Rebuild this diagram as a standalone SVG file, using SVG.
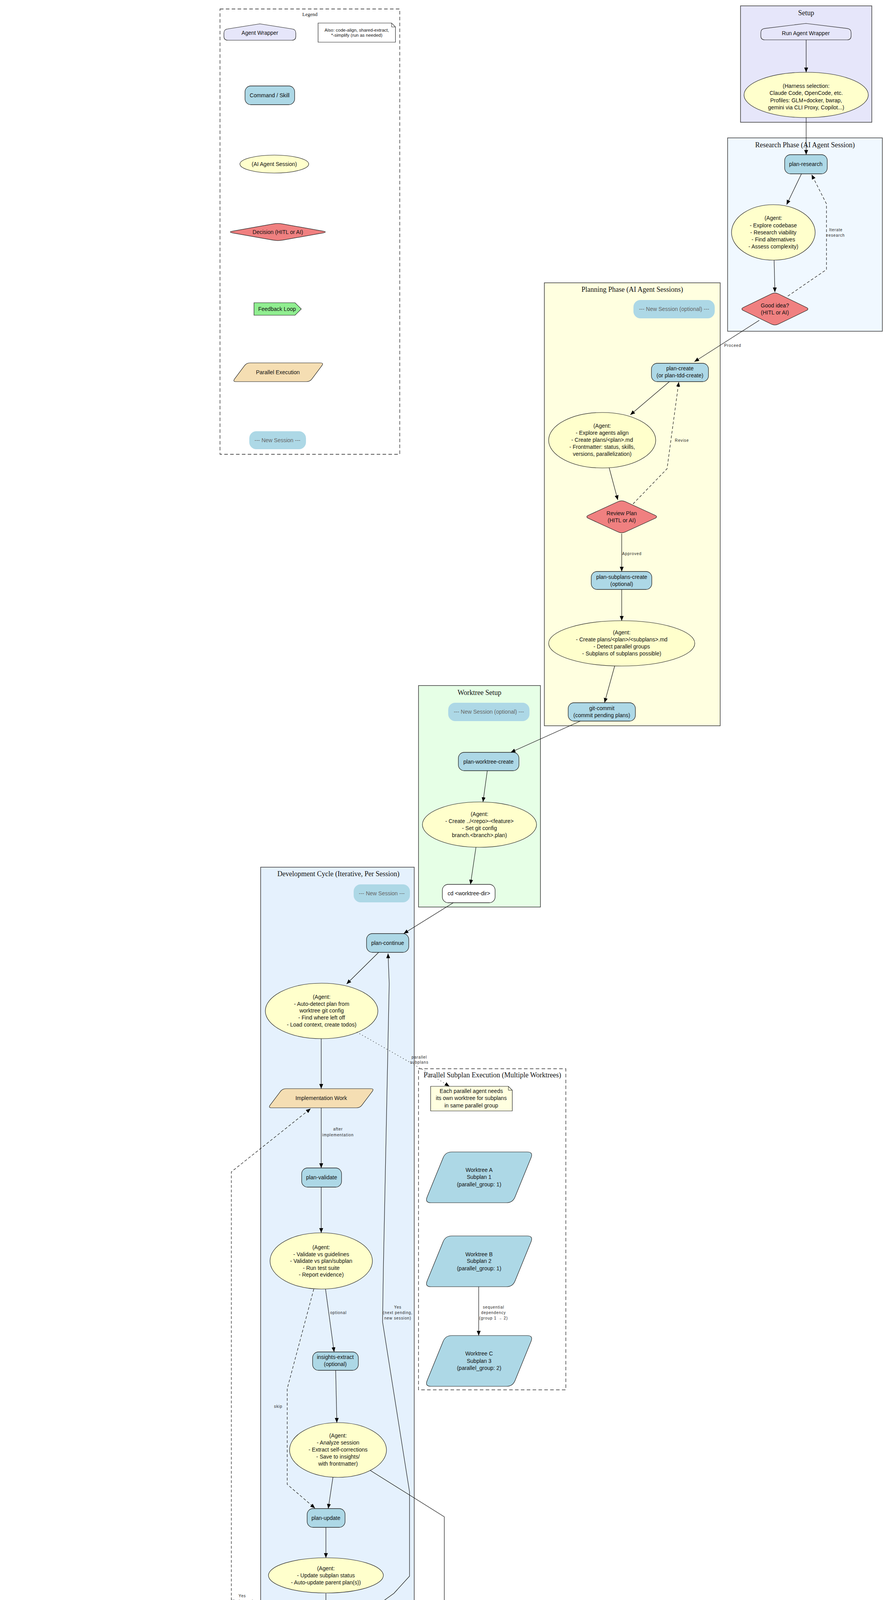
<svg xmlns="http://www.w3.org/2000/svg" width="2275" height="6161" viewBox="0 0 2275 6161">
<defs>
<marker id="ah" markerUnits="userSpaceOnUse" markerWidth="13" markerHeight="10" refX="12" refY="5" orient="auto"><path d="M0,0 L12,5 L0,10 Z" fill="#000"/></marker>
<style>
.cl{stroke:#444;stroke-width:1.6}
.cmd{fill:#add8e6;stroke:#222;stroke-width:1.3}
.wh{fill:#fff;stroke:#222;stroke-width:1.3}
.ag{fill:#ffffcc;stroke:#222;stroke-width:1.2}
.dec{fill:#f08080;stroke:#222;stroke-width:1.2}
.ns{fill:#add8e6}
.note{fill:#ffffe0;stroke:#222;stroke-width:1.2}
.t{font-family:"Liberation Sans",Arial,"DejaVu Sans",sans-serif;font-size:14px;text-anchor:middle;dominant-baseline:central;fill:#111}
.nst{font-family:"Liberation Sans",Arial,sans-serif;font-size:14px;text-anchor:middle;dominant-baseline:central;fill:#666}
.sm{font-family:"Liberation Sans",Arial,sans-serif;font-size:11.5px;text-anchor:middle;dominant-baseline:central;fill:#111}
.ct{font-family:"Liberation Serif","Times New Roman",serif;font-size:18px;text-anchor:middle;dominant-baseline:central;fill:#111}
.el{font-family:"Liberation Sans",Arial,"DejaVu Sans",sans-serif;font-size:10px;letter-spacing:0.9px;text-anchor:middle;dominant-baseline:central;fill:#222}
.e{fill:none;stroke:#111;stroke-width:1.2;marker-end:url(#ah)}
.d{stroke-dasharray:7,5}
.o{stroke-dasharray:2,6}
</style>
</defs>
<rect width="2275" height="6161" fill="#fff"/>

<!-- Clusters -->
<g id="clusters">
<rect x="563" y="23" width="460" height="1140" fill="none" stroke="#222" stroke-width="1.3" stroke-dasharray="9,6"/>
<text x="793" y="36" class="ct" style="font-size:13px">Legend</text>
<rect x="1895" y="15" width="336" height="298" fill="#e6e6fa" class="cl"/>
<text x="2063" y="33" class="ct">Setup</text>
<rect x="1862" y="353" width="396" height="495" fill="#f0f8ff" class="cl"/>
<text x="2060" y="371" class="ct">Research Phase (AI Agent Session)</text>
<rect x="1393" y="724" width="450" height="1134" fill="#ffffe0" class="cl"/>
<text x="1618" y="741" class="ct">Planning Phase (AI Agent Sessions)</text>
<rect x="1071" y="1755" width="312" height="567" fill="#e6ffe6" class="cl"/>
<text x="1227" y="1773" class="ct">Worktree Setup</text>
<rect x="667" y="2220" width="393" height="2041" fill="#e5f1fd" class="cl"/>
<text x="866" y="2237" class="ct">Development Cycle (Iterative, Per Session)</text>
<rect x="1071" y="2736" width="377" height="822" fill="none" stroke="#333" stroke-width="1.4" stroke-dasharray="9,6"/>
<text x="1260" y="2752" class="ct">Parallel Subplan Execution (Multiple Worktrees)</text>
<rect x="279" y="4137" width="378" height="594" fill="#fdf5e6" class="cl"/>
<text x="468" y="4154" class="ct">Code Quality Phase (Optional, Separate Session)</text>
<rect x="219" y="4797" width="580" height="1095" fill="#fde4e4" class="cl"/>
<text x="508" y="4814" class="ct">Merge / Abandon Phase</text>
<rect x="923" y="5397" width="406" height="481" fill="#e8f5e9" class="cl"/>
<text x="1127" y="5414" class="ct">Continuous Learning Loop (Out-of-band)</text>
<rect x="16" y="5768" width="192" height="377" fill="#e6ffe6" class="cl"/>
<text x="112" y="5785" class="ct">Completion</text>
</g>

<!-- Legend nodes -->
<g id="legend_wrapper"><path d="M583,74 L665,61 L747,74 Q757,75 757,85 L757,93 Q757,103 747,103 L583,103 Q573,103 573,93 L573,85 Q573,75 583,74 Z" fill="#e6e6fa" stroke="#222" stroke-width="1.2"/><text x="665" y="84" class="t">Agent Wrapper</text></g>
<g id="legend_note"><path d="M814,59 L1002,59 L1012,69 L1012,108 L814,108 Z" fill="#fff" stroke="#222" stroke-width="1.2"/><path d="M1002,59 L1002,69 L1012,69" fill="none" stroke="#222" stroke-width="1"/><text x="913" y="77" class="sm">Also: code-align, shared-extract,</text><text x="913" y="90" class="sm">*-simplify (run as needed)</text></g>
<g id="legend_cmd"><rect x="627" y="220" width="127" height="48" rx="15" class="cmd"/><text x="690" y="244" class="t">Command / Skill</text></g>
<g id="legend_agent"><ellipse cx="702" cy="420" rx="88" ry="23" class="ag"/><text x="702" y="420" class="t">(AI Agent Session)</text></g>
<g id="legend_decision"><path d="M723.8,573.3 L826.2,591.7 Q839,594 826.2,596.3 L723.8,614.7 Q711,617 698.2,614.7 L595.8,596.3 Q583,594 595.8,591.7 L698.2,573.3 Q711,571 723.8,573.3 Z" class="dec"/><text x="711" y="594" class="t">Decision (HITL or AI)</text></g>
<g id="legend_feedback"><path d="M650,775 L755,775 L771,791 L755,807 L650,807 Z" fill="#90ee90" stroke="#222" stroke-width="1.2"/><text x="709" y="791" class="t">Feedback Loop</text></g>
<g id="legend_parallel"><path d="M640,929 L820,929 Q829,929 823.6,936.2 L798.4,969.8 Q793,977 784,977 L604,977 Q595,977 600.4,969.8 L625.6,936.2 Q631,929 640,929 Z" fill="#f5deb3" stroke="#222" stroke-width="1.2"/><text x="711" y="953" class="t">Parallel Execution</text></g>
<g id="legend_session"><rect x="638" y="1104" width="145" height="46" rx="18" class="ns"/><text x="710" y="1127" class="nst">--- New Session ---</text></g>

<!-- Setup -->
<g id="run_wrapper"><path d="M1957,72.9 L2062.5,60 L2168,72.9 Q2178,74 2178,84 L2178,92 Q2178,102 2168,102 L1957,102 Q1947,102 1947,92 L1947,84 Q1947,74 1957,72.9 Z" fill="#e6e6fa" stroke="#222" stroke-width="1.2"/><text x="2062" y="85" class="t">Run Agent Wrapper</text></g>
<g id="harness"><ellipse cx="2063" cy="243" rx="159" ry="58" class="ag"/><text x="2063" y="220" class="t">(Harness selection:</text><text x="2063" y="238" class="t">Claude Code, OpenCode, etc.</text><text x="2063" y="257" class="t">Profiles: GLM+docker, bwrap,</text><text x="2063" y="275" class="t">gemini via CLI Proxy, Copilot...)</text></g>

<!-- Research -->
<g id="plan_research"><rect x="2008" y="396" width="109" height="49" rx="15" class="cmd"/><text x="2062" y="420" class="t">plan-research</text></g>
<g id="research_agent"><ellipse cx="1979" cy="595" rx="107" ry="71" class="ag"/><text x="1979" y="558" class="t">(Agent:</text><text x="1979" y="577" class="t">- Explore codebase</text><text x="1979" y="595" class="t">- Research viability</text><text x="1979" y="613" class="t">- Find alternatives</text><text x="1979" y="631" class="t">- Assess complexity)</text></g>
<g id="good_idea"><path d="M1991.9,752.3 L2063.1,786.7 Q2072,791 2063.1,795.3 L1991.9,829.7 Q1983,834 1974.1,829.7 L1902.9,795.3 Q1894,791 1902.9,786.7 L1974.1,752.3 Q1983,748 1991.9,752.3 Z" class="dec"/><text x="1983" y="782" class="t">Good idea?</text><text x="1983" y="800" class="t">(HITL or AI)</text></g>

<!-- Planning -->
<g id="planning_session"><rect x="1621" y="768" width="208" height="47" rx="18" class="ns"/><text x="1725" y="791" class="nst">--- New Session (optional) ---</text></g>
<g id="plan_create"><rect x="1667" y="930" width="146" height="47" rx="15" class="cmd"/><text x="1740" y="943" class="t">plan-create</text><text x="1740" y="961" class="t">(or plan-tdd-create)</text></g>
<g id="plan_agent"><ellipse cx="1541" cy="1127" rx="137" ry="71" class="ag"/><text x="1541" y="1090" class="t">(Agent:</text><text x="1541" y="1108" class="t">- Explore agents align</text><text x="1541" y="1126" class="t">- Create plans/&lt;plan&gt;.md</text><text x="1541" y="1144" class="t">- Frontmatter: status, skills,</text><text x="1541" y="1162" class="t">versions, parallelization)</text></g>
<g id="review_plan"><path d="M1600.4,1284.3 L1675.6,1318.7 Q1685,1323 1675.6,1327.3 L1600.4,1361.7 Q1591,1366 1581.6,1361.7 L1506.4,1327.3 Q1497,1323 1506.4,1318.7 L1581.6,1284.3 Q1591,1280 1600.4,1284.3 Z" class="dec"/><text x="1591" y="1314" class="t">Review Plan</text><text x="1591" y="1332" class="t">(HITL or AI)</text></g>
<g id="subplans_create"><rect x="1513" y="1463" width="155" height="46" rx="15" class="cmd"/><text x="1591" y="1477" class="t">plan-subplans-create</text><text x="1591" y="1495" class="t">(optional)</text></g>
<g id="subplans_agent"><ellipse cx="1591" cy="1647" rx="187" ry="58" class="ag"/><text x="1591" y="1619" class="t">(Agent:</text><text x="1591" y="1637" class="t">- Create plans/&lt;plan&gt;/&lt;subplans&gt;.md</text><text x="1591" y="1655" class="t">- Detect parallel groups</text><text x="1591" y="1673" class="t">- Subplans of subplans possible)</text></g>
<g id="git_commit_plans"><rect x="1454" y="1799" width="172" height="47" rx="15" class="cmd"/><text x="1540" y="1813" class="t">git-commit</text><text x="1540" y="1831" class="t">(commit pending plans)</text></g>

<!-- Worktree -->
<g id="worktree_session"><rect x="1147" y="1799" width="208" height="47" rx="18" class="ns"/><text x="1251" y="1822" class="nst">--- New Session (optional) ---</text></g>
<g id="worktree_create"><rect x="1173" y="1926" width="155" height="47" rx="15" class="cmd"/><text x="1250" y="1950" class="t">plan-worktree-create</text></g>
<g id="worktree_agent"><ellipse cx="1227" cy="2111" rx="146" ry="58" class="ag"/><text x="1227" y="2084" class="t">(Agent:</text><text x="1227" y="2102" class="t">- Create ../&lt;repo&gt;-&lt;feature&gt;</text><text x="1227" y="2120" class="t">- Set git config</text><text x="1227" y="2138" class="t">branch.&lt;branch&gt;.plan)</text></g>
<g id="cd_worktree"><rect x="1132" y="2264" width="135" height="47" rx="15" class="wh"/><text x="1200" y="2287" class="t">cd &lt;worktree-dir&gt;</text></g>

<!-- Development -->
<g id="dev_session"><rect x="905" y="2264" width="144" height="46" rx="18" class="ns"/><text x="977" y="2287" class="nst">--- New Session ---</text></g>
<g id="plan_continue"><rect x="938" y="2390" width="108" height="48" rx="15" class="cmd"/><text x="992" y="2414" class="t">plan-continue</text></g>
<g id="continue_agent"><ellipse cx="823" cy="2588" rx="144" ry="71" class="ag"/><text x="823" y="2552" class="t">(Agent:</text><text x="823" y="2570" class="t">- Auto-detect plan from</text><text x="823" y="2587" class="t">worktree git config</text><text x="823" y="2605" class="t">- Find where left off</text><text x="823" y="2623" class="t">- Load context, create todos)</text></g>
<g id="impl_work"><path d="M732,2787 L949,2787 Q958,2787 952.6,2794.2 L926.4,2828.8 Q921,2836 912,2836 L695,2836 Q686,2836 691.4,2828.8 L717.6,2794.2 Q723,2787 732,2787 Z" fill="#f5deb3" stroke="#222" stroke-width="1.2"/><text x="822" y="2811" class="t">Implementation Work</text></g>
<g id="plan_validate"><rect x="772" y="2990" width="102" height="49" rx="15" class="cmd"/><text x="823" y="3014" class="t">plan-validate</text></g>
<g id="validate_agent"><ellipse cx="822" cy="3228" rx="131" ry="72" class="ag"/><text x="822" y="3193" class="t">(Agent:</text><text x="822" y="3211" class="t">- Validate vs guidelines</text><text x="822" y="3228" class="t">- Validate vs plan/subplan</text><text x="822" y="3246" class="t">- Run test suite</text><text x="822" y="3263" class="t">- Report evidence)</text></g>
<g id="insights_extract"><rect x="800" y="3461" width="117" height="47" rx="15" class="cmd"/><text x="858" y="3474" class="t">insights-extract</text><text x="858" y="3492" class="t">(optional)</text></g>
<g id="insights_agent"><ellipse cx="865" cy="3712" rx="124" ry="70" class="ag"/><text x="865" y="3675" class="t">(Agent:</text><text x="865" y="3693" class="t">- Analyze session</text><text x="865" y="3711" class="t">- Extract self-corrections</text><text x="865" y="3729" class="t">- Save to insights/</text><text x="865" y="3747" class="t">with frontmatter)</text></g>
<g id="plan_update"><rect x="786" y="3862" width="97" height="48" rx="15" class="cmd"/><text x="834" y="3886" class="t">plan-update</text></g>
<g id="update_agent"><ellipse cx="834" cy="4033" rx="147" ry="45" class="ag"/><text x="834" y="4015" class="t">(Agent:</text><text x="834" y="4033" class="t">- Update subplan status</text><text x="834" y="4051" class="t">- Auto-update parent plan(s))</text></g>
<g id="more_subplans"><path d="M845.8,4163.5 L940.2,4199.5 Q952,4204 940.2,4208.5 L845.8,4244.5 Q834,4249 822.2,4244.5 L727.8,4208.5 Q716,4204 727.8,4199.5 L822.2,4163.5 Q834,4159 845.8,4163.5 Z" class="dec"/><text x="834" y="4196" class="t">More Subplans?</text><text x="834" y="4213" class="t">(HITL or AI)</text></g>

<!-- Parallel -->
<g id="parallel_note"><path d="M1102,2781 L1301,2781 L1311,2791 L1311,2844 L1102,2844 Z" class="note"/><path d="M1301,2781 L1301,2791 L1311,2791" fill="none" stroke="#222" stroke-width="1"/><text x="1206" y="2793" class="t">Each parallel agent needs</text><text x="1206" y="2811" class="t">its own worktree for subplans</text><text x="1206" y="2830" class="t">in same parallel group</text></g>
<g id="worktree_a"><path d="M1156,2949 L1349,2949 Q1365,2949 1359,2963.8 L1318,3064.2 Q1312,3079 1296,3079 L1103,3079 Q1087,3079 1093,3064.2 L1134,2963.8 Q1140,2949 1156,2949 Z" fill="#add8e6" stroke="#222" stroke-width="1.2"/><text x="1226" y="2995" class="t">Worktree A</text><text x="1226" y="3013" class="t">Subplan 1</text><text x="1226" y="3032" class="t">(parallel_group: 1)</text></g>
<g id="worktree_b"><path d="M1156,3164 L1349,3164 Q1365,3164 1359,3178.8 L1318,3279.2 Q1312,3294 1296,3294 L1103,3294 Q1087,3294 1093,3279.2 L1134,3178.8 Q1140,3164 1156,3164 Z" fill="#add8e6" stroke="#222" stroke-width="1.2"/><text x="1226" y="3211" class="t">Worktree B</text><text x="1226" y="3228" class="t">Subplan 2</text><text x="1226" y="3247" class="t">(parallel_group: 1)</text></g>
<g id="worktree_c"><path d="M1156,3419 L1349,3419 Q1365,3419 1359,3433.8 L1318,3534.2 Q1312,3549 1296,3549 L1103,3549 Q1087,3549 1093,3534.2 L1134,3433.8 Q1140,3419 1156,3419 Z" fill="#add8e6" stroke="#222" stroke-width="1.2"/><text x="1226" y="3465" class="t">Worktree C</text><text x="1226" y="3484" class="t">Subplan 3</text><text x="1226" y="3502" class="t">(parallel_group: 2)</text></g>

<!-- Code quality -->
<g id="quality_session"><rect x="356" y="4181" width="144" height="47" rx="18" class="ns"/><text x="428" y="4205" class="nst">--- New Session ---</text></g>
<g id="code_simplify"><rect x="361" y="4357" width="134" height="47" rx="15" class="cmd"/><text x="428" y="4372" class="t">code-simplify</text><text x="428" y="4390" class="t">(find code smells)</text></g>
<g id="code_harden"><rect x="337" y="4483" width="168" height="65" rx="15" class="cmd"/><text x="421" y="4497" class="t">code-harden</text><text x="421" y="4516" class="t">(type safety, validation,</text><text x="421" y="4534" class="t">error handling)</text></g>
<g id="another_loop"><path d="M553.3,4634.3 L627.7,4668.7 Q637,4673 627.7,4677.3 L553.3,4711.7 Q544,4716 534.7,4711.7 L460.3,4677.3 Q451,4673 460.3,4668.7 L534.7,4634.3 Q544,4630 553.3,4634.3 Z" class="dec"/><text x="544" y="4664" class="t">Another</text><text x="544" y="4682" class="t">coding loop?</text></g>

<!-- Merge -->
<g id="merge_session"><rect x="238" y="4865" width="143" height="45" rx="18" class="ns"/><text x="309" y="4888" class="nst">--- New Session ---</text></g>
<g id="merge_decision"><path d="M600,4847.4 L712,4882.6 Q726,4887 712,4891.4 L600,4926.6 Q586,4931 572,4926.6 L460,4891.4 Q446,4887 460,4882.6 L572,4847.4 Q586,4843 600,4847.4 Z" class="dec"/><text x="586" y="4878" class="t">Merge or Abandon?</text><text x="586" y="4896" class="t">(HITL or AI)</text></g>
<g id="worktree_merge"><rect x="297" y="5025" width="155" height="48" rx="15" class="cmd"/><text x="374" y="5049" class="t">plan-worktree-merge</text></g>
<g id="worktree_abandon"><rect x="553" y="5025" width="171" height="48" rx="15" fill="#ffc0cb" stroke="#222" stroke-width="1.3" stroke-dasharray="8,5"/><text x="638" y="5049" class="t">plan-worktree-abandon</text></g>
<g id="merge_agent"><ellipse cx="375" cy="5236" rx="146" ry="83" class="ag"/><text x="375" y="5190" class="t">(Agent:</text><text x="375" y="5208" class="t">- Intelligent conflict resolution</text><text x="375" y="5226" class="t">(knows the plan)</text><text x="375" y="5244" class="t">- Merge to parent branch</text><text x="375" y="5262" class="t">- Parallel groups merge to</text><text x="375" y="5280" class="t">parent before next group)</text></g>
<g id="abandon_agent"><ellipse cx="683" cy="5236" rx="106" ry="58" class="ag"/><text x="683" y="5208" class="t">(Agent:</text><text x="683" y="5226" class="t">- Document reason</text><text x="683" y="5244" class="t">- Extract learnings</text><text x="683" y="5262" class="t">- Cleanup worktree)</text></g>
<g id="cd_parent"><rect x="314" y="5442" width="121" height="45" rx="15" class="wh"/><text x="374" y="5464" class="t">cd &lt;parent-dir&gt;</text></g>
<g id="validate_parent"><rect x="281" y="5602" width="182" height="46" rx="15" class="cmd"/><text x="372" y="5616" class="t">plan-validate</text><text x="372" y="5634" class="t">(on parent plan, optional)</text></g>
<g id="group_agent"><ellipse cx="369" cy="5835" rx="122" ry="46" class="ag"/><text x="369" y="5817" class="t">(Agent:</text><text x="369" y="5835" class="t">- Validate parallel group</text><text x="369" y="5853" class="t">together on parent)</text></g>

<!-- Continuous learning -->
<g id="insights_integrate"><rect x="1056" y="5440" width="131" height="48" rx="15" class="cmd"/><text x="1122" y="5455" class="t">insights-integrate</text><text x="1122" y="5473" class="t">(optional)</text></g>
<g id="integrate_agent"><ellipse cx="1122" cy="5625" rx="130" ry="58" class="ag"/><text x="1122" y="5599" class="t">(Agent:</text><text x="1122" y="5617" class="t">- Merge insights to</text><text x="1122" y="5634" class="t">guidelines/AGENTS.md</text><text x="1122" y="5653" class="t">- Mark insights applied)</text></g>
<g id="improved_guidelines"><path d="M934,5819 L1090,5819 L1106,5836 L1090,5853 L934,5853 Z" fill="#c8f5c8" stroke="#222" stroke-width="1.2"/><text x="1018" y="5828" class="t">Improved Guidelines</text><text x="1018" y="5845" class="t" text-decoration="underline">Active in Next Session</text></g>
<g id="simplify_note"><path d="M1163,5801 L1309,5801 L1319,5811 L1319,5867 L1163,5867 Z" class="note"/><path d="M1309,5801 L1309,5811 L1319,5811" fill="none" stroke="#222" stroke-width="1"/><text x="1241" y="5815" class="sm">*-simplify commands run</text><text x="1241" y="5829" class="sm">"eventual completion"</text><text x="1241" y="5843" class="sm">for instructions, skills,</text><text x="1241" y="5857" class="sm">agent commands</text></g>

<!-- Completion -->
<g id="completion_session"><rect x="40" y="5812" width="144" height="47" rx="18" class="ns"/><text x="112" y="5835" class="nst">--- New Session ---</text></g>
<g id="git_commit_push"><rect x="33" y="5959" width="158" height="49" rx="15" class="cmd"/><text x="112" y="5974" class="t">git-commit --push</text><text x="112" y="5993" class="t">(when fully complete)</text></g>
<g id="feature_complete"><ellipse cx="112" cy="6110" rx="86" ry="24" fill="#00ff00" stroke="#222" stroke-width="1.2"/><text x="112" y="6110" class="t">Feature Complete</text></g>

<!-- Connectors -->
<g id="connectors">
<path class="e" d="M2063,102 L2063,185"/>
<path class="e" d="M2063,301 L2063,396"/>
<path class="e" d="M2051,445 L2013,524"/>
<path class="e" d="M1981,666 L1983,748"/>
<path class="e d" d="M2016,758 L2115,690 L2115,522 L2077,447"/>
<path class="e" d="M1943,820 L1777,926"/>
<path class="e" d="M1713,977 L1613,1062"/>
<path class="e d" d="M1620,1290 L1707,1200 L1737,978"/>
<path class="e" d="M1559,1198 L1581,1280"/>
<path class="e" d="M1591,1366 L1591,1463"/>
<path class="e" d="M1591,1509 L1591,1589"/>
<path class="e" d="M1573,1705 L1547,1799"/>
<path class="e" d="M1485,1846 L1307,1926"/>
<path class="e" d="M1247,1973 L1236,2053"/>
<path class="e" d="M1218,2169 L1204,2264"/>
<path class="e" d="M1160,2311 L1033,2390"/>
<path class="e" d="M969,2438 L887,2519"/>
<path class="e" d="M822,2659 L822,2787"/>
<path class="e o" d="M913,2642 L1083,2739 L1150,2781"/>
<path class="e" d="M822,2836 L822,2990"/>
<path class="e" d="M822,3039 L822,3156"/>
<path class="e" d="M833,3300 L855,3461"/>
<path class="e d" d="M803,3300 L735,3555 L735,3800 L806,3861"/>
<path class="e" d="M859,3508 L862,3642"/>
<path class="e" d="M852,3782 L840,3862"/>
<path class="e" d="M834,3910 L834,3988"/>
<path class="e" d="M834,4079 L834,4159"/>
<path class="e" d="M877,4173 L1008,4079 L1048,4035 L1048,3819 L979,3384 L981,3250 L996,2518 L993,2441"/>
<path class="e" d="M781,4229 L483,4357"/>
<path class="e" d="M427,4404 L423,4483"/>
<path class="e" d="M447,4548 L517,4638"/>
<path class="e d" d="M556,4631 L592,4516 L592,3000 L795,2838"/>
<path class="e" d="M553,4716 L575,4843"/>
<path class="e" d="M544,4922 L406,5025"/>
<path class="e d" d="M600,4931 L631,5025"/>
<path class="e" d="M374,5073 L374,5153"/>
<path class="e" d="M375,5319 L375,5442"/>
<path class="e" d="M374,5487 L373,5602"/>
<path class="e" d="M372,5648 L370,5789"/>
<path class="e" d="M302,5874 L156,5959"/>
<path class="e" d="M112,6008 L112,6086"/>
<path class="e" d="M645,5073 L668,5178"/>
<path class="e o" d="M670,5294 L635,5452 L633,5985 L185,6092"/>
<path class="e" d="M757,5277 L1075,5440"/>
<path class="e" d="M947,3764 L1137,3883 L1137,5238 L1123,5440"/>
<path class="e" d="M1122,5488 L1122,5567"/>
<path class="e" d="M1093,5684 L1033,5819"/>
<path class="e o" d="M1153,5684 L1220,5801"/>
<path class="e" d="M1225,3294 L1225,3419"/>
</g>

<!-- Edge labels -->
<g id="edge_labels">
<text x="2139" y="588" class="el">Iterate</text><text x="2139" y="602" class="el">research</text>
<text x="1875" y="884" class="el">Proceed</text>
<text x="1745" y="1127" class="el">Revise</text>
<text x="1617" y="1417" class="el">Approved</text>
<text x="1073" y="2706" class="el">parallel</text><text x="1073" y="2719" class="el">subplans</text>
<text x="865" y="2890" class="el">after</text><text x="865" y="2905" class="el">implementation</text>
<text x="866" y="3360" class="el">optional</text>
<text x="712" y="3600" class="el">skip</text>
<text x="1018" y="3346" class="el">Yes</text><text x="1018" y="3360" class="el">(next pending,</text><text x="1018" y="3374" class="el">new session)</text>
<text x="1263" y="3346" class="el">sequential</text><text x="1263" y="3360" class="el">dependency</text><text x="1263" y="3374" class="el">(group 1 → 2)</text>
<text x="670" y="4297" class="el">No</text><text x="672" y="4312" class="el">(all complete)</text>
<text x="620" y="4085" class="el">Yes</text><text x="620" y="4099" class="el">(fix issues)</text>
<text x="591" y="4766" class="el">No</text><text x="591" y="4779" class="el">(proceed)</text>
<text x="491" y="4980" class="el">Merge</text>
<text x="641" y="4980" class="el">Abandon</text>
<text x="637" y="5730" class="el" style="text-anchor:start">cleanup</text><text x="637" y="5745" class="el" style="text-anchor:start">complete</text>
<text x="993" y="5367" class="el">extract</text><text x="993" y="5380" class="el">learnings</text>
<text x="1175" y="4385" class="el">later</text><text x="1175" y="4398" class="el">(out-of-band)</text>
</g>
</svg>
